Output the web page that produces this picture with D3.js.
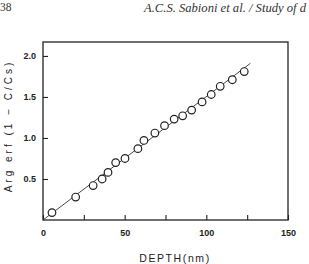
<!DOCTYPE html>
<html lang="en">
<head>
    <meta charset="UTF-8">
    <title>Arg erf vs depth</title>
    <script src="https://d3js.org/d3.v7.min.js"></script>
    <style>
        body { margin: 0; background: white; }
        svg { display: block; }
        .tick text { font-family: "Liberation Sans", Arial, sans-serif; font-weight: bold; }
    </style>
</head>
<body>
    <svg width="309" height="264"></svg>
    <script>
        // depth (nm) and Arg erf(1 - C/Cs)
        const depth = [5.5, 20, 30.7, 36.2, 39.8, 44.5, 50.2, 58.1, 61.8, 68.5, 74.4, 80.3, 85.5, 91, 97.4, 103, 108.5, 115.9, 123.2];
        const argErf = [0.09, 0.28, 0.42, 0.50, 0.58, 0.70, 0.75, 0.87, 0.97, 1.06, 1.15, 1.23, 1.27, 1.34, 1.44, 1.53, 1.63, 1.71, 1.81];
        // fitted straight line, two end points
        const fitX = [0, 127];
        const fitY = [0, 1.91];
        const xTicks = [0, 25, 50, 75, 100, 125, 150];
        const xLabels = [0, 50, 100, 150];
        const yTicks = [0.5, 1.0, 1.5, 2.0];

        const svg = d3.select("svg");
        const plotL = 43, plotR = 288, plotT = 42, plotB = 220;

        const x = d3.scaleLinear().domain([0, 150]).range([plotL, plotR]);
        const y = d3.scaleLinear().domain([0, 2.17]).range([plotB, plotT]);

        // header line of the page
        svg.append("text").attr("x", 0).attr("y", 11)
            .attr("font-family", "Liberation Serif, Times New Roman, serif")
            .attr("font-size", 11.5).attr("fill", "#333").text("38");
        svg.append("text").attr("x", 144).attr("y", 11.5)
            .attr("font-family", "Liberation Serif, Times New Roman, serif")
            .attr("font-style", "italic")
            .attr("font-size", 12.6).attr("fill", "#333").text("A.C.S. Sabioni et al.  /  Study of d");

        // frame
        svg.append("rect")
            .attr("x", plotL).attr("y", plotT)
            .attr("width", plotR - plotL).attr("height", plotB - plotT)
            .attr("fill", "none").attr("stroke", "#222").attr("stroke-width", 1.3);

        // x axis: ticks inside, labels every 50
        const xAxis = d3.axisBottom(x).tickValues(xTicks).tickSize(-5).tickPadding(10)
            .tickFormat(d => xLabels.includes(d) ? d : "");
        const gx = svg.append("g").attr("transform", `translate(0,${plotB})`).call(xAxis);
        gx.select(".domain").remove();
        gx.selectAll(".tick line").attr("stroke", "#222").attr("stroke-width", 1.1);
        gx.selectAll(".tick text").attr("font-size", 9).attr("fill", "#222");

        // y axis: ticks inside
        const yAxis = d3.axisLeft(y).tickValues(yTicks).tickSize(-5).tickPadding(7)
            .tickFormat(d3.format(".1f"));
        const gy = svg.append("g").attr("transform", `translate(${plotL},0)`).call(yAxis);
        gy.select(".domain").remove();
        gy.selectAll(".tick line").attr("stroke", "#222").attr("stroke-width", 1.1);
        gy.selectAll(".tick text").attr("font-size", 9).attr("fill", "#222");

        // fitted line
        svg.append("line")
            .attr("x1", x(fitX[0])).attr("y1", y(fitY[0]))
            .attr("x2", x(fitX[1])).attr("y2", y(fitY[1]))
            .attr("stroke", "#333").attr("stroke-width", 0.9);

        // open circles
        svg.append("g").selectAll("circle")
            .data(depth.map((d, i) => [d, argErf[i]]))
            .join("circle")
            .attr("cx", d => x(d[0])).attr("cy", d => y(d[1]))
            .attr("r", 3.8)
            .attr("fill", "white").attr("stroke", "#222").attr("stroke-width", 1.2);

        // axis titles
        svg.append("text")
            .attr("x", 175).attr("y", 262)
            .attr("text-anchor", "middle")
            .attr("font-family", "Liberation Sans, Arial, sans-serif")
            .attr("font-size", 10.5).attr("letter-spacing", 1.6).attr("fill", "#222")
            .text("DEPTH(nm)");

        svg.append("text")
            .attr("transform", "translate(12,126) rotate(-90)")
            .attr("text-anchor", "middle")
            .attr("font-family", "Liberation Sans, Arial, sans-serif")
            .attr("font-size", 10).attr("letter-spacing", 3).attr("fill", "#222")
            .text("Arg erf (1 \u2212 C/Cs)");
    </script>
</body>
</html>
